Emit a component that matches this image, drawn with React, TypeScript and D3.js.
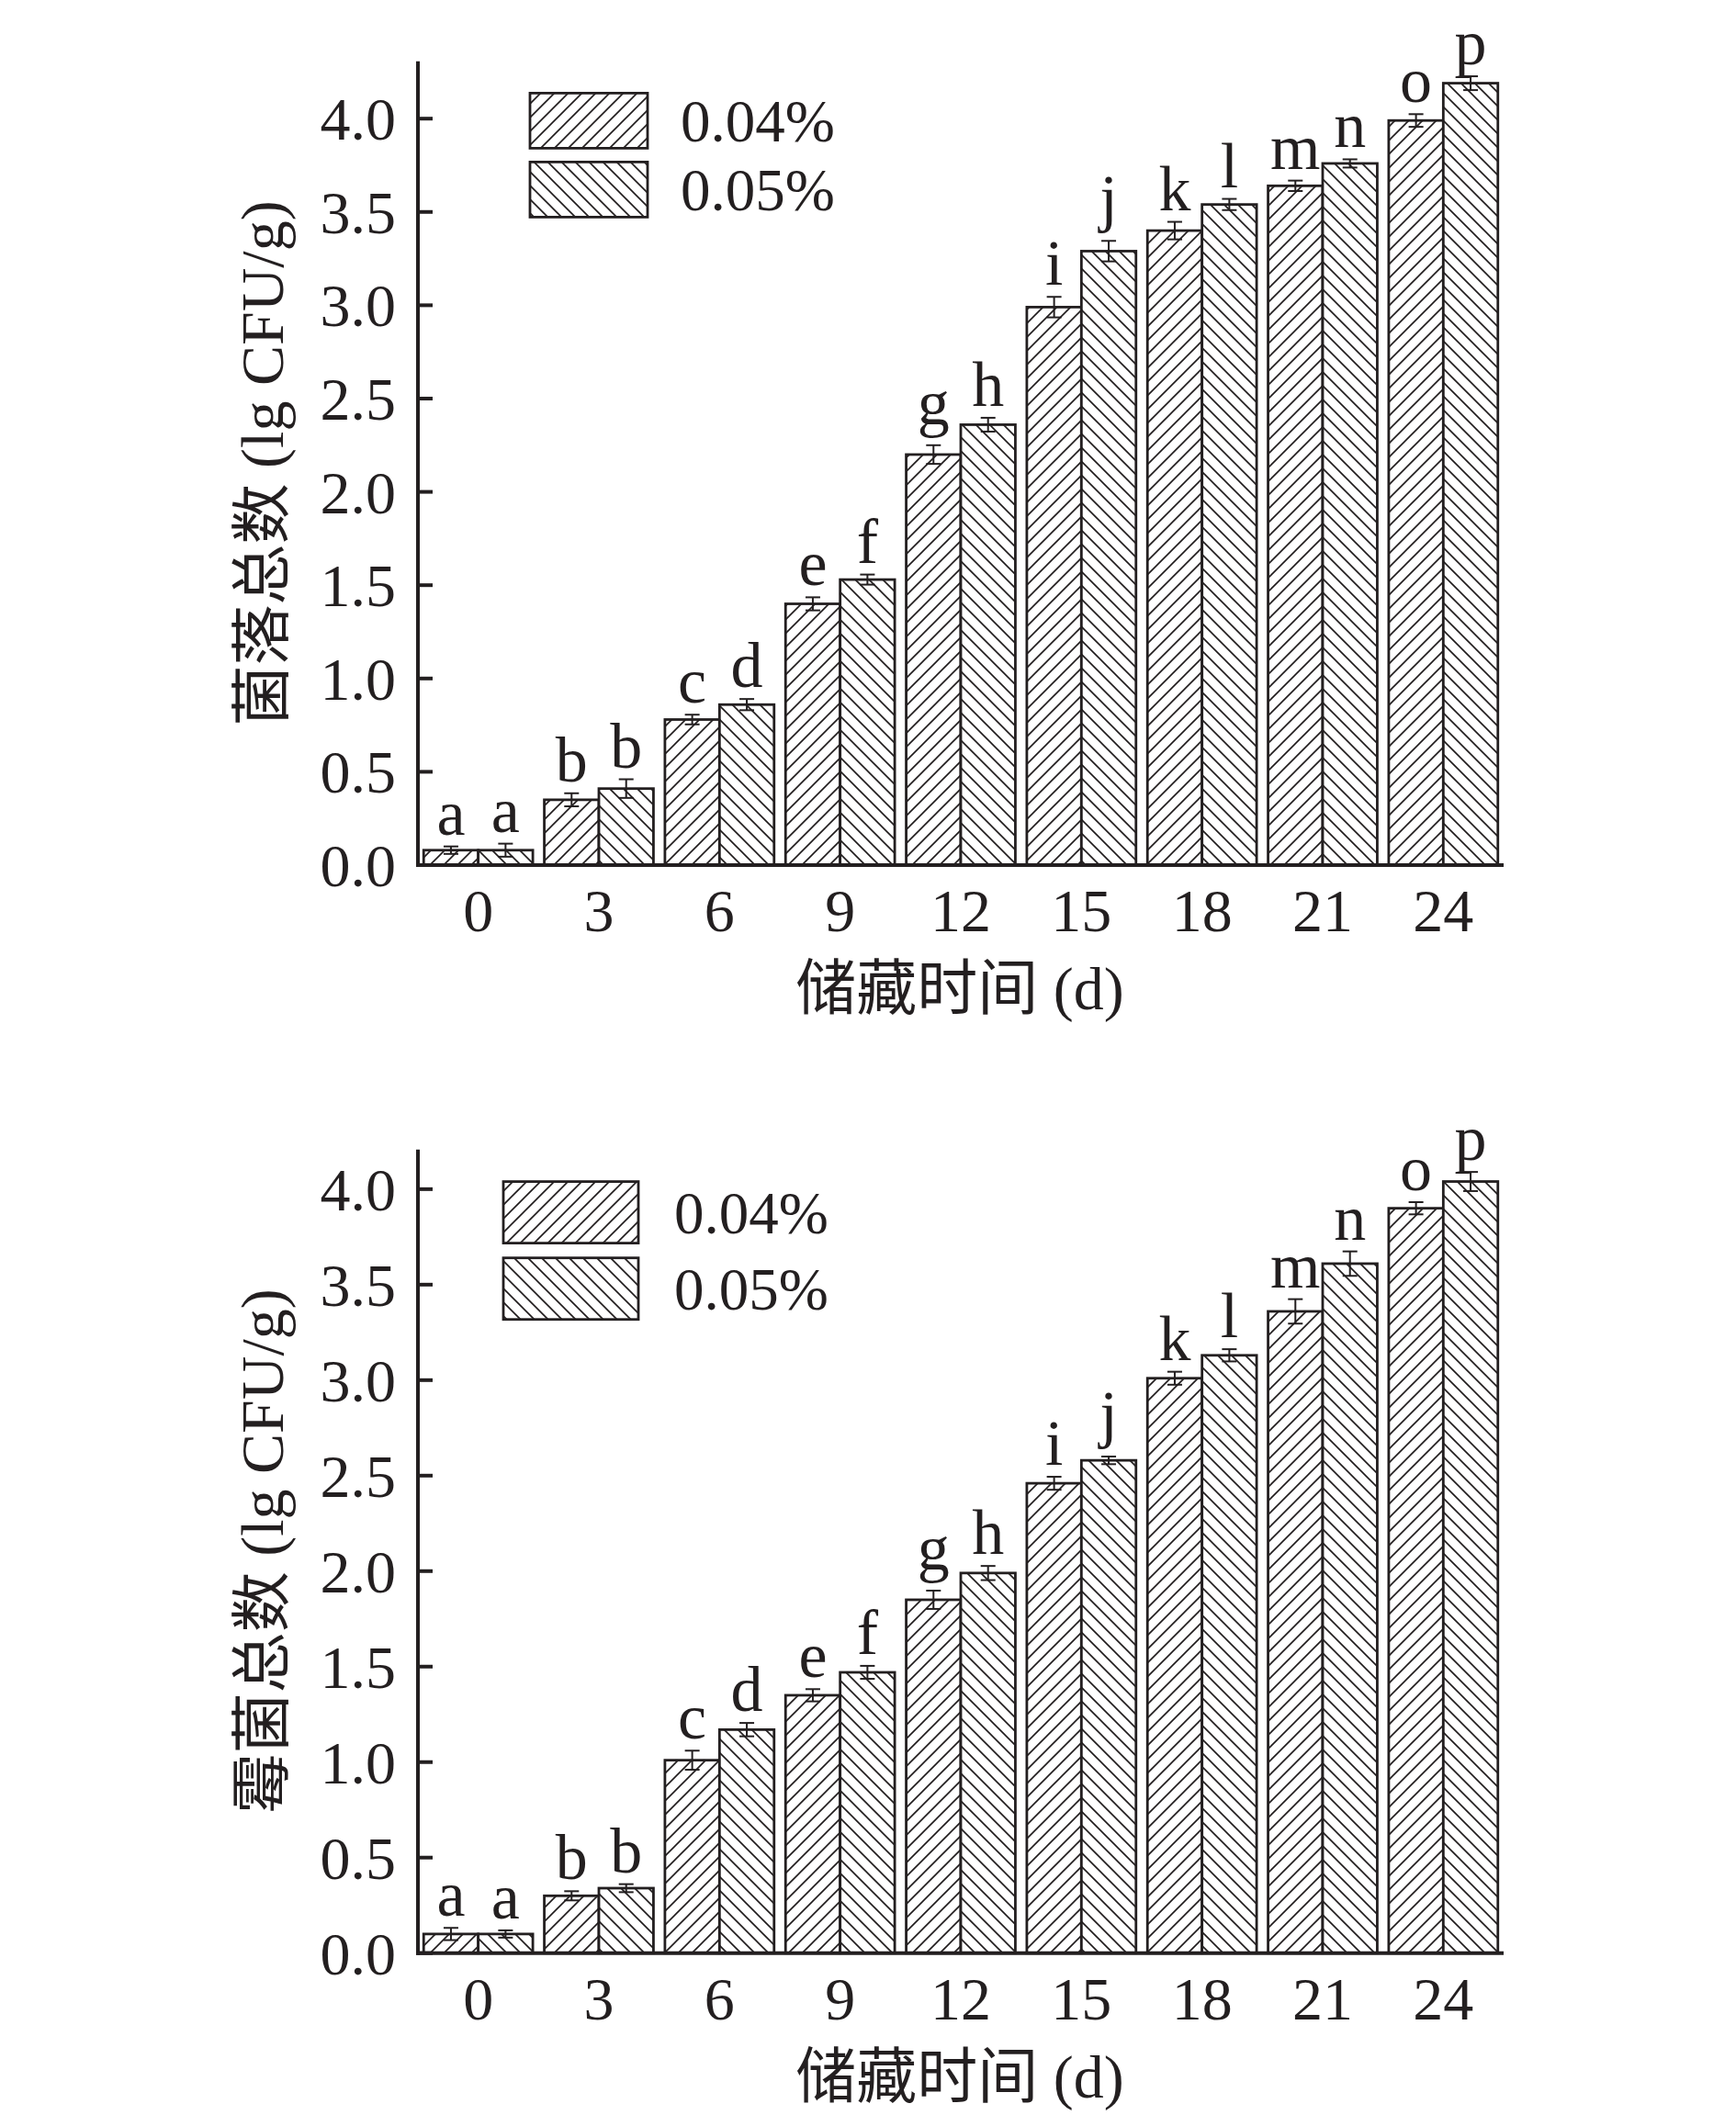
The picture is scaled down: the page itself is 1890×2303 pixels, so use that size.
import React from "react";
import * as d3 from "d3";

const days = ["0", "3", "6", "9", "12", "15", "18", "21", "24"];
const seriesNames = ["0.04%", "0.05%"];
const yTicks = [0, 0.5, 1.0, 1.5, 2.0, 2.5, 3.0, 3.5, 4.0];

// Top chart: 菌落总数
const colony004 = [0.08, 0.35, 0.78, 1.40, 2.20, 2.99, 3.40, 3.64, 3.99];
const colony004Err = [0.02, 0.035, 0.026, 0.035, 0.05, 0.055, 0.047, 0.028, 0.034];
const colony005 = [0.08, 0.41, 0.86, 1.53, 2.36, 3.29, 3.54, 3.76, 4.19];
const colony005Err = [0.035, 0.05, 0.03, 0.027, 0.037, 0.055, 0.03, 0.022, 0.037];
const colonyLetters004 = ["a", "b", "c", "e", "g", "i", "k", "m", "o"];
const colonyLetters005 = ["a", "b", "d", "f", "h", "j", "l", "n", "p"];

// Bottom chart: 霉菌总数
const mold004 = [0.10, 0.30, 1.01, 1.35, 1.85, 2.46, 3.01, 3.36, 3.90];
const mold004Err = [0.032, 0.024, 0.05, 0.032, 0.048, 0.034, 0.034, 0.064, 0.032];
const mold005 = [0.10, 0.34, 1.17, 1.47, 1.99, 2.58, 3.13, 3.61, 4.04];
const mold005Err = [0.019, 0.021, 0.035, 0.034, 0.037, 0.02, 0.032, 0.064, 0.05];
const moldLetters004 = ["a", "b", "c", "e", "g", "i", "k", "m", "o"];
const moldLetters005 = ["a", "b", "d", "f", "h", "j", "l", "n", "p"];

const INK = "#231f20";
const FONT = "'Liberation Serif', 'Noto Sans CJK SC', serif";

type ChartProps = {
  yLabel: string;
  a: number[];
  aErr: number[];
  b: number[];
  bErr: number[];
  la: string[];
  lb: string[];
  yTop: number;
  yBottom: number;
  yMax: number;
  legend: { x: number; w: number; y1: number; y2: number; h: number; tx: number };
};

function Chart(p: ChartProps) {
  const x0 = 455;
  const x1 = 1637;
  const x = d3.scaleBand<string>().domain(days).range([x0, x1]).paddingInner(0.095).paddingOuter(0.0475);
  const xs = d3.scaleBand<string>().domain(seriesNames).range([0, x.bandwidth()]);
  const y = d3.scaleLinear().domain([0, p.yMax]).range([p.yBottom, p.yTop]);
  const fmt = d3.format(".1f");
  const vals = [p.a, p.b];
  const errs = [p.aErr, p.bErr];
  const lets = [p.la, p.lb];
  const pats = ["url(#hatchFwd)", "url(#hatchBack)"];
  const desc = new Set(["g", "j"]);
  const midY = (p.yTop + p.yBottom) / 2;
  return (
    <g>
      {seriesNames.map((s, si) =>
        days.map((d, i) => {
          const bx = (x(d) as number) + (xs(s) as number);
          const v = vals[si][i];
          return (
            <rect
              key={s + d}
              x={bx}
              y={y(v)}
              width={xs.bandwidth()}
              height={y(0) - y(v)}
              fill={pats[si]}
              stroke={INK}
              strokeWidth={2.8}
            />
          );
        })
      )}
      {seriesNames.map((s, si) =>
        days.map((d, i) => {
          const cx = (x(d) as number) + (xs(s) as number) + xs.bandwidth() / 2;
          const v = vals[si][i];
          const e = errs[si][i];
          const lt = lets[si][i];
          const ly = y(v + e) - 13 - (desc.has(lt) ? 10 : 0);
          return (
            <g key={"e" + s + d} stroke={INK} strokeWidth={2}>
              <line x1={cx} x2={cx} y1={y(v - e)} y2={y(v + e)} />
              <line x1={cx - 8} x2={cx + 8} y1={y(v - e)} y2={y(v - e)} />
              <line x1={cx - 8} x2={cx + 8} y1={y(v + e)} y2={y(v + e)} />
              <text x={cx} y={ly} textAnchor="middle" fontSize={70} fill={INK} stroke="none" fontFamily={FONT}>
                {lt}
              </text>
            </g>
          );
        })
      )}
      <line x1={x0} x2={x0} y1={p.yTop} y2={p.yBottom + 2} stroke={INK} strokeWidth={4} />
      <line x1={x0 - 2} x2={x1} y1={p.yBottom} y2={p.yBottom} stroke={INK} strokeWidth={4} />
      {yTicks.map((t) => (
        <g key={"t" + t}>
          <line x1={x0} x2={x0 + 16} y1={y(t)} y2={y(t)} stroke={INK} strokeWidth={4} />
          <text x={431} y={y(t) + 23} textAnchor="end" fontSize={66} fill={INK} fontFamily={FONT}>
            {fmt(t)}
          </text>
        </g>
      ))}
      {days.map((d) => (
        <text
          key={"x" + d}
          x={(x(d) as number) + x.bandwidth() / 2}
          y={p.yBottom + 72}
          textAnchor="middle"
          fontSize={66}
          fill={INK}
          fontFamily={FONT}
        >
          {d}
        </text>
      ))}
      <text x={1045} y={p.yBottom + 157} textAnchor="middle" fontSize={66} fill={INK} fontFamily={FONT}>
        储藏时间 (d)
      </text>
      <text
        transform={`translate(308, ${midY}) rotate(-90)`}
        textAnchor="middle"
        fontSize={66}
        fill={INK}
        fontFamily={FONT}
      >
        {p.yLabel}
      </text>
      {seriesNames.map((s, si) => {
        const ly = si === 0 ? p.legend.y1 : p.legend.y2;
        return (
          <g key={"lg" + s}>
            <rect x={p.legend.x} y={ly} width={p.legend.w} height={p.legend.h} fill={pats[si]} stroke={INK} strokeWidth={2.8} />
            <text x={p.legend.tx} y={ly + p.legend.h / 2 + 23} fontSize={65} fill={INK} fontFamily={FONT}>
              {s}
            </text>
          </g>
        );
      })}
    </g>
  );
}

export default function App() {
  return (
    <svg
      width={1890}
      height={2303}
      style={{ position: "absolute", left: 0, top: 0, background: "#fff" }}
      xmlns="http://www.w3.org/2000/svg"
    >
      <defs>
        <pattern id="hatchFwd" patternUnits="userSpaceOnUse" width={15} height={15}>
          <rect width={15} height={15} fill="#fff" />
          <path d="M-4,4 L4,-4 M0,15 L15,0 M11,19 L19,11" stroke={INK} strokeWidth={1.7} />
        </pattern>
        <pattern id="hatchBack" patternUnits="userSpaceOnUse" width={15} height={15}>
          <rect width={15} height={15} fill="#fff" />
          <path d="M-4,11 L4,19 M0,0 L15,15 M11,-4 L19,4" stroke={INK} strokeWidth={1.7} />
        </pattern>
      </defs>
      <rect width={1890} height={2303} fill="#fff" />
      <Chart
        yLabel="菌落总数 (lg CFU/g)"
        a={colony004}
        aErr={colony004Err}
        b={colony005}
        bErr={colony005Err}
        la={colonyLetters004}
        lb={colonyLetters005}
        yTop={66.8}
        yBottom={942}
        yMax={4.307}
        legend={{ x: 577, w: 128, y1: 101.4, y2: 176.4, h: 60, tx: 741 }}
      />
      <Chart
        yLabel="霉菌总数 (lg CFU/g)"
        a={mold004}
        aErr={mold004Err}
        b={mold005}
        bErr={mold005Err}
        la={moldLetters004}
        lb={moldLetters005}
        yTop={1251.8}
        yBottom={2126.7}
        yMax={4.207}
        legend={{ x: 548, w: 147, y1: 1286.6, y2: 1369.7, h: 67, tx: 734 }}
      />
    </svg>
  );
}
